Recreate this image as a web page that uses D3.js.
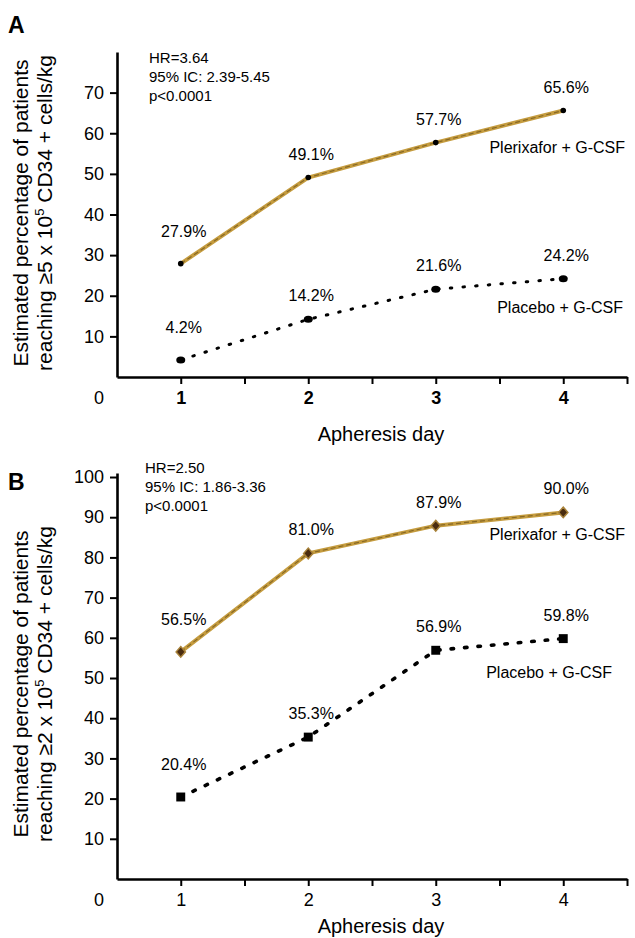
<!DOCTYPE html>
<html>
<head>
<meta charset="utf-8">
<script src="https://cdn.jsdelivr.net/npm/d3@7"></script>
<style>
  body { margin: 0; background: #fff; }
  svg { font-family: "Liberation Sans", Arial, Helvetica, sans-serif; }
</style>
</head>
<body>
<div id="chart"></div>
<script>
// data
var days = [1, 2, 3, 4];
var xTicks = [1, 1.5, 2, 2.5, 3, 3.5, 4, 4.5];

var plerixaforA = [27.9, 49.1, 57.7, 65.6];
var placeboA = [4.2, 14.2, 21.6, 24.2];
var plerixaforLabelsA = ["27.9%", "49.1%", "57.7%", "65.6%"];
var placeboLabelsA = ["4.2%", "14.2%", "21.6%", "24.2%"];
var yTicksA = [10, 20, 30, 40, 50, 60, 70];

// day 4 point sits a little above its 90.0% label in the original
var plerixaforB = [56.5, 81.0, 87.9, 91.2];
var placeboB = [20.4, 35.3, 56.9, 59.8];
var plerixaforLabelsB = ["56.5%", "81.0%", "87.9%", "90.0%"];
var placeboLabelsB = ["20.4%", "35.3%", "56.9%", "59.8%"];
var yTicksB = [10, 20, 30, 40, 50, 60, 70, 80, 90, 100];

var statsA = ["HR=3.64", "95% IC: 2.39-5.45", "p<0.0001"];
var statsB = ["HR=2.50", "95% IC: 1.86-3.36", "p<0.0001"];

// svg container
var width = 635;
var height = 938;

var svg = d3.select("#chart").append("svg")
    .attr("width", width)
    .attr("height", height);

var gold = "#c59c3f";
var goldDark = "#6e5219";

function drawPanel(p) {
    var x = d3.scaleLinear().domain([0.5, 4.5]).range([117, 627]);
    var y = d3.scaleLinear().domain([0, p.yMax]).range([p.bottom, p.top]);

    var g = svg.append("g");

    // panel letter
    g.append("text")
        .attr("x", 8)
        .attr("y", p.letterY)
        .attr("font-size", "23px")
        .attr("font-weight", "bold")
        .text(p.letter);

    // y axis
    var yAxis = d3.axisLeft(y).tickValues(p.yTicks).tickSize(7).tickSizeOuter(0).tickPadding(6);
    var yg = g.append("g")
        .attr("transform", "translate(" + x(0.5) + ",0)")
        .call(yAxis);
    yg.selectAll("text").attr("font-size", "18px").attr("fill", "#000");

    // x axis
    var xAxis = d3.axisBottom(x).tickValues(xTicks).tickSize(7).tickSizeOuter(0)
        .tickFormat(function (d) { return Number.isInteger(d) ? d : ""; });
    var xg = g.append("g")
        .attr("transform", "translate(0," + y(0) + ")")
        .call(xAxis);
    xg.selectAll("text")
        .attr("y", 27)
        .attr("dy", null)
        .attr("font-size", "18px")
        .attr("font-weight", p.boldDays ? "bold" : "normal")
        .attr("fill", "#000");

    [yg, xg].forEach(function (a) {
        a.select(".domain").attr("stroke", "#000").attr("stroke-width", 2.6);
        a.selectAll(".tick line").attr("stroke", "#000").attr("stroke-width", 2);
    });

    // corner zero
    g.append("text")
        .attr("x", 99)
        .attr("y", y(0) + 27)
        .attr("text-anchor", "middle")
        .attr("font-size", "18px")
        .text("0");

    // x title
    g.append("text")
        .attr("x", 381)
        .attr("y", p.xTitleY)
        .attr("text-anchor", "middle")
        .attr("font-size", "20px")
        .text("Apheresis day");

    // y title (two lines)
    var yt = g.append("g")
        .attr("transform", "translate(0," + p.yTitleY + ") rotate(-90)")
        .attr("font-size", "21px")
        .attr("text-anchor", "middle");
    yt.append("text")
        .attr("y", 28)
        .text("Estimated percentage of patients");
    var line2 = yt.append("text").attr("y", 52);
    line2.append("tspan").text("reaching \u2265" + p.threshold + " x 10");
    line2.append("tspan").attr("dy", -8).attr("font-size", "13px").text("5");
    line2.append("tspan").attr("dy", 8).text(" CD34 + cells/kg");

    // stats block
    g.selectAll("text.stat")
        .data(p.stats)
        .enter()
        .append("text")
        .attr("class", "stat")
        .attr("x", p.statsX)
        .attr("y", function (d, i) { return p.statsY + i * 19; })
        .attr("font-size", "15px")
        .text(function (d) { return d; });

    var line = d3.line()
        .x(function (d) { return x(d.day); })
        .y(function (d) { return y(d.value); });

    var pler = days.map(function (d, i) { return { day: d, value: p.plerixafor[i], label: p.plerixaforLabels[i] }; });
    var plac = days.map(function (d, i) { return { day: d, value: p.placebo[i], label: p.placeboLabels[i] }; });

    // plerixafor line: gold with darker core
    g.append("path")
        .datum(pler)
        .attr("d", line)
        .attr("fill", "none")
        .attr("stroke", gold)
        .attr("stroke-width", 4);
    g.append("path")
        .datum(pler)
        .attr("d", line)
        .attr("fill", "none")
        .attr("stroke", goldDark)
        .attr("stroke-width", 1.2)
        .attr("stroke-dasharray", "5,3")
        .attr("opacity", 0.7);

    // placebo dotted line
    g.append("path")
        .datum(plac)
        .attr("d", line)
        .attr("fill", "none")
        .attr("stroke", "#000")
        .attr("stroke-width", p.dotWidth)
        .attr("stroke-linecap", "round")
        .attr("stroke-dasharray", p.dotDash);

    // markers
    if (p.markers === "dots") {
        g.selectAll("circle.pler")
            .data(pler)
            .enter()
            .append("circle")
            .attr("class", "pler")
            .attr("cx", function (d) { return x(d.day); })
            .attr("cy", function (d) { return y(d.value); })
            .attr("r", 2.8)
            .attr("fill", "#000");
        g.selectAll("ellipse.plac")
            .data(plac)
            .enter()
            .append("ellipse")
            .attr("class", "plac")
            .attr("cx", function (d) { return x(d.day); })
            .attr("cy", function (d) { return y(d.value); })
            .attr("rx", 4.5)
            .attr("ry", 3.5)
            .attr("fill", "#000");
    } else {
        g.selectAll("path.pler")
            .data(pler)
            .enter()
            .append("path")
            .attr("class", "pler")
            .attr("transform", function (d) { return "translate(" + x(d.day) + "," + y(d.value) + ") scale(1,1.15)"; })
            .attr("d", d3.symbol().type(d3.symbolDiamond2).size(55))
            .attr("fill", "#4a2c10")
            .attr("stroke", "#a8823a")
            .attr("stroke-width", 1.4);
        g.selectAll("path.plac")
            .data(plac)
            .enter()
            .append("path")
            .attr("class", "plac")
            .attr("transform", function (d) { return "translate(" + x(d.day) + "," + y(d.value) + ")"; })
            .attr("d", d3.symbol().type(d3.symbolSquare).size(80))
            .attr("fill", "#000");
    }

    // value labels above points
    g.selectAll("text.val")
        .data(pler.concat(plac))
        .enter()
        .append("text")
        .attr("class", "val")
        .attr("x", function (d) { return x(d.day) + 3; })
        .attr("y", function (d) { return y(d.value) - (d.day === 1 ? 27 : 18); })
        .attr("text-anchor", "middle")
        .attr("font-size", "16px")
        .text(function (d) { return d.label; });

    // series names
    g.append("text")
        .attr("x", 625)
        .attr("y", p.plerNameY)
        .attr("text-anchor", "end")
        .attr("font-size", "16px")
        .text("Plerixafor + G-CSF");
    g.append("text")
        .attr("x", p.placNameX)
        .attr("y", p.placNameY)
        .attr("text-anchor", "end")
        .attr("font-size", "16px")
        .text("Placebo + G-CSF");
}

drawPanel({
    letter: "A", letterY: 33,
    top: 52, bottom: 377, yMax: 80, yTicks: yTicksA,
    boldDays: true, threshold: 5,
    xTitleY: 441, yTitleY: 213,
    stats: statsA, statsX: 149, statsY: 63,
    plerixafor: plerixaforA, placebo: placeboA,
    plerixaforLabels: plerixaforLabelsA, placeboLabels: placeboLabelsA,
    markers: "dots", dotWidth: 3, dotDash: "1.5,11.2",
    plerNameY: 153, placNameX: 623, placNameY: 313
});

drawPanel({
    letter: "B", letterY: 490,
    top: 473, bottom: 879, yMax: 101, yTicks: yTicksB,
    boldDays: false, threshold: 2,
    xTitleY: 933, yTitleY: 684,
    stats: statsB, statsX: 145, statsY: 473,
    plerixafor: plerixaforB, placebo: placeboB,
    plerixaforLabels: plerixaforLabelsB, placeboLabels: placeboLabelsB,
    markers: "shapes", dotWidth: 3.6, dotDash: "2.5,11",
    plerNameY: 540, placNameX: 612, placNameY: 678
});
</script>
</body>
</html>
